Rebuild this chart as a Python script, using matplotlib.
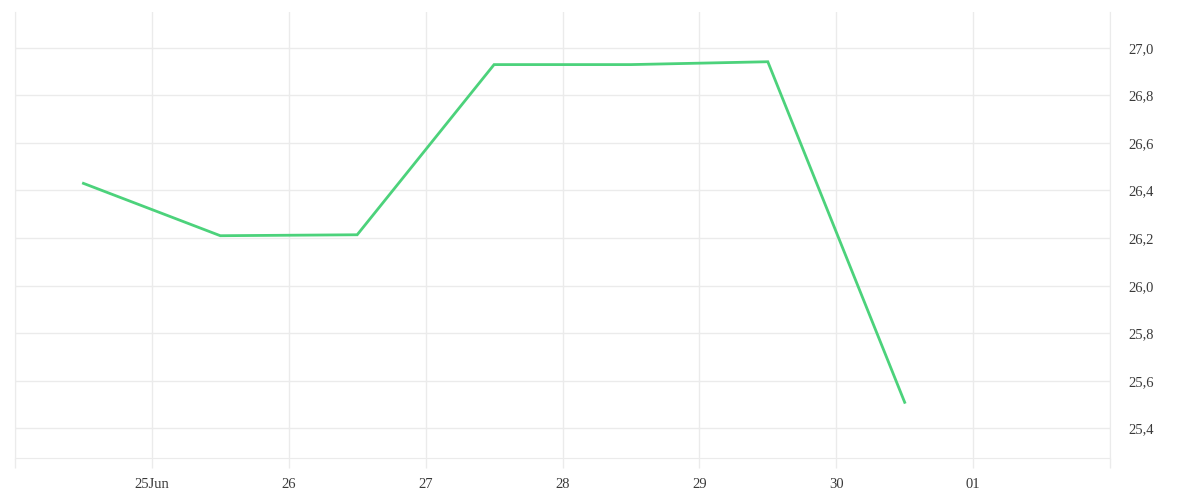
import matplotlib
matplotlib.use('Agg')
import matplotlib.pyplot as plt
from datetime import datetime, timedelta

# dados (pontos ao meio-dia de cada dia)
dias = ['2023-06-24', '2023-06-25', '2023-06-26', '2023-06-27',
        '2023-06-28', '2023-06-29', '2023-06-30']
valores = [26.43, 26.21, 26.214, 26.929, 26.929, 26.941, 25.51]
rotulos_x = ['', '25Jun', '26', '27', '28', '29', '30', '01', '']

datas = [datetime.strptime(d, '%Y-%m-%d') + timedelta(hours=12) for d in dias]

cinza = '#ebebeb'
plt.rcParams['font.family'] = ['Liberation Serif', 'DejaVu Serif']

fig = plt.figure(figsize=(12, 5), dpi=100)
ax = fig.add_axes([15/1200, 1 - 458/500, (1110 - 15)/1200, (458 - 12)/500])

ax.plot(datas, valores, color='#4cd27b', linewidth=2, solid_joinstyle='miter')

ax.set_xlim(datetime(2023, 6, 24), datetime(2023, 7, 2))
ax.set_ylim(25.276, 27.15)

ticks_x = [datetime(2023, 6, 24) + timedelta(days=i) for i in range(9)]
ax.set_xticks(ticks_x)
ax.set_xticklabels(rotulos_x)
ax.set_yticks([25.4, 25.6, 25.8, 26.0, 26.2, 26.4, 26.6, 26.8, 27.0])
ax.set_yticklabels(['25,4', '25,6', '25,8', '26,0', '26,2', '26,4', '26,6', '26,8', '27,0'])

ax.yaxis.tick_right()
ax.grid(True, axis='both', color=cinza, linewidth=1)
ax.tick_params(axis='x', length=7.5, color=cinza, width=1, labelsize=10.5, labelcolor='#3a3a3a', pad=7)
ax.tick_params(axis='y', length=0, labelsize=10.5, labelcolor='#3a3a3a', pad=13)

for lado in ['left', 'right', 'bottom']:
    ax.spines[lado].set_color(cinza)
ax.spines['top'].set_visible(False)

fig.savefig('out.png', dpi=100)
